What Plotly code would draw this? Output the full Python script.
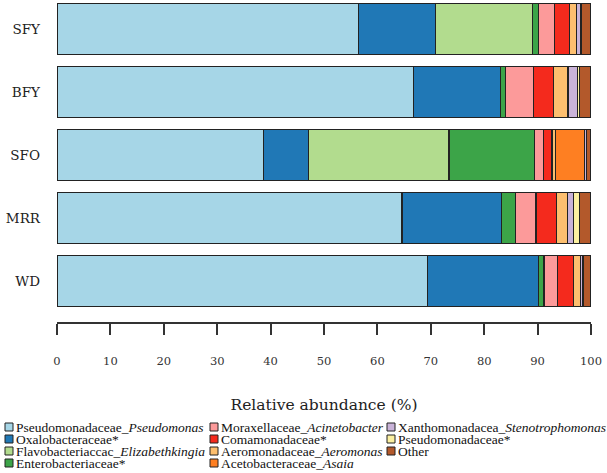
import plotly.graph_objects as go

samples = ["SFY", "BFY", "SFO", "MRR", "WD"]
taxa = [
    "Pseudomonadaceae_<i>Pseudomonas</i>",
    "Oxalobacteraceae*",
    "Flavobacteriaccac_<i>Elizabethkingia</i>",
    "Enterobacteriaceae*",
    "Moraxellaceae_<i>Acinetobacter</i>",
    "Comamonadaceae*",
    "Aeromonadaceae_<i>Aeromonas</i>",
    "Acetobacteraceae_<i>Asaia</i>",
    "Xanthomonadacea_<i>Stenotrophomonas</i>",
    "Pseudomonadaceae*",
    "Other",
]
colors = ["#a6d6e7", "#2078b6", "#b2dc8e", "#3ca448", "#fc9a9a", "#f42a1d",
          "#fdbf6f", "#fe7f22", "#c9b3d8", "#fcf0a0", "#b3592b"]

# values per taxon, in sample order SFY, BFY, SFO, MRR, WD
pseudomonas   = [56.4, 66.7, 38.6, 64.6, 69.4]
oxalo         = [14.4, 16.3, 8.5, 18.7, 20.7]
elizabeth     = [18.3, 0.0, 26.3, 0.0, 0.0]
entero        = [1.0, 1.0, 16.1, 2.6, 1.1]
acinetobacter = [3.0, 5.2, 1.6, 3.8, 2.5]
comamonas     = [2.8, 3.8, 1.6, 3.9, 3.1]
aeromonas     = [1.4, 2.7, 0.7, 2.0, 1.3]
asaia         = [0.0, 0.0, 5.4, 0.0, 0.0]
stenotroph    = [0.7, 1.7, 0.4, 1.1, 0.3]
pseudo_other  = [0.3, 0.4, 0.0, 1.1, 0.2]
other         = [1.7, 2.2, 0.8, 2.2, 1.4]

series = [pseudomonas, oxalo, elizabeth, entero, acinetobacter, comamonas,
          aeromonas, asaia, stenotroph, pseudo_other, other]

x_ticks = [0, 10, 20, 30, 40, 50, 60, 70, 80, 90, 100]

fig = go.Figure()
for name, vals, col in zip(taxa, series, colors):
    fig.add_trace(go.Bar(
        y=samples, x=vals, name=name, orientation="h",
        marker=dict(color=col, line=dict(color="#222222", width=1.1)),
        showlegend=False,
    ))

W, H = 607, 473
L, R, T, B = 57, 16, 0, 151
PW, PH = W - L - R, H - T - B

def px(x):
    return (x - L) / PW

def py(y):
    return (H - B - y) / PH

SERIF = "Liberation Serif, Times New Roman, serif"

# manual legend (column-major, 4 rows)
col_x = [5, 210, 387]
row_y = [427, 439, 451, 463]
shapes = []
annotations = []
for i, (name, col) in enumerate(zip(taxa, colors)):
    c, r = divmod(i, 4)
    x0, yc = col_x[c], row_y[r]
    shapes.append(dict(type="rect", xref="paper", yref="paper",
                       x0=px(x0), x1=px(x0 + 8), y0=py(yc + 4), y1=py(yc - 4),
                       fillcolor=col, line=dict(color="#222222", width=1)))
    annotations.append(dict(text=name, xref="paper", yref="paper",
                            x=px(x0 + 9), y=py(yc), xanchor="left", yanchor="middle",
                            showarrow=False,
                            font=dict(family=SERIF, size=13.5, color="#111111")))

fig.update_layout(
    barmode="stack",
    bargap=0.18,
    width=W, height=H,
    margin=dict(l=L, r=R, t=T, b=B),
    plot_bgcolor="white", paper_bgcolor="white",
    shapes=shapes, annotations=annotations,
    xaxis=dict(range=[0, 100], tickvals=x_ticks, ticks="outside", ticklen=11,
               tickcolor="#333333", tickwidth=1.5, showline=True, linecolor="#333333",
               linewidth=1.5, showgrid=False, zeroline=False, ticklabelstandoff=16,
               tickfont=dict(family="DejaVu Serif", size=11.5, color="#333333"),
               title=dict(text="Relative abundance (%)", standoff=33,
                          font=dict(family="DejaVu Serif", size=15.5, color="#222222"))),
    yaxis=dict(categoryorder="array", categoryarray=samples[::-1],
               range=[-0.65, 4.46], showgrid=False, zeroline=False, showline=False,
               ticks="", ticklabelstandoff=16,
               tickfont=dict(family="DejaVu Serif", size=13.5, color="#222222")),
)

fig.write_html("out.html", config={"displayModeBar": False},
               post_script="document.body.style.margin='0';document.body.style.overflow='hidden';")
